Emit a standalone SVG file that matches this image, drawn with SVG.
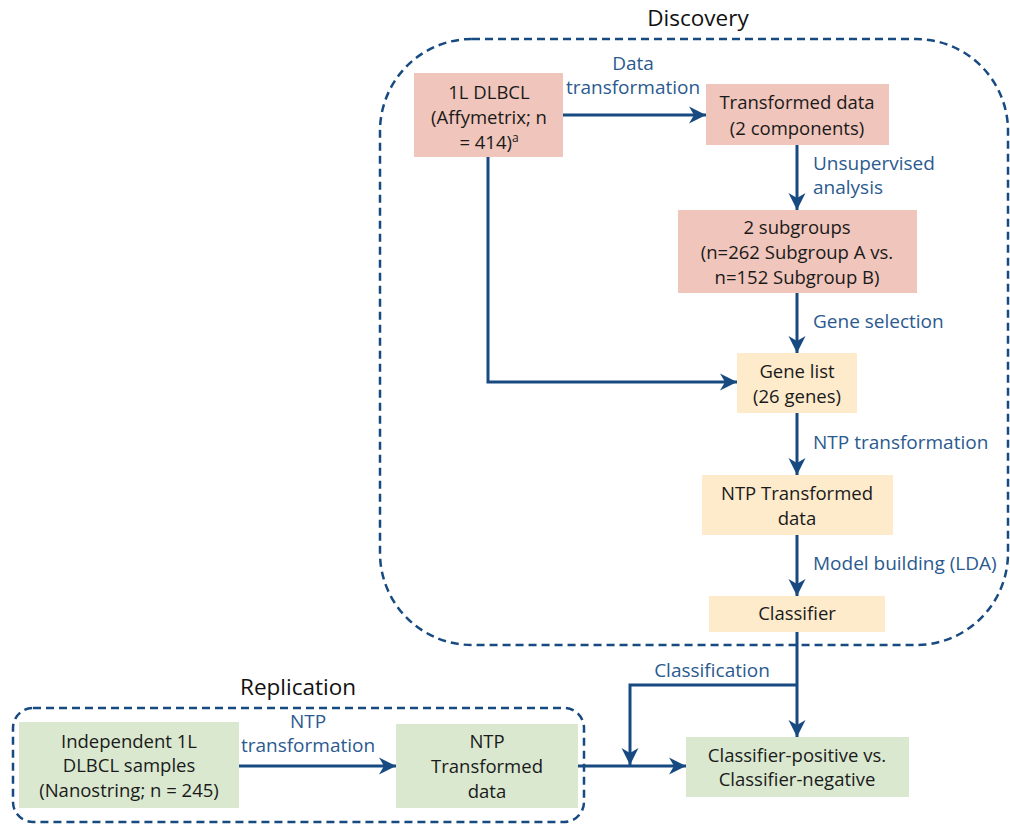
<svg xmlns="http://www.w3.org/2000/svg" width="1010" height="824" viewBox="0 0 1010 824">
<style>
.t{font-family:"Open Sans","Noto Sans","Liberation Sans",sans-serif;font-size:18.5px;fill:#1a1a1a;text-anchor:middle}
.l{font-family:"Open Sans","Noto Sans","Liberation Sans",sans-serif;font-size:19px;fill:#2b5a8f}
.h{font-family:"Open Sans","Noto Sans","Liberation Sans",sans-serif;font-size:22.5px;fill:#111;text-anchor:middle}
.pink{fill:#f0c5bb}
.yel{fill:#fdebcc}
.grn{fill:#d9e8cf}
.grp{fill:none;stroke:#174a80;stroke-width:2.5;stroke-dasharray:8 5}
.c{fill:none;stroke:#174a80;stroke-width:3}
</style>
<defs>
<marker id="ah" markerUnits="userSpaceOnUse" markerWidth="18" markerHeight="18" refX="17" refY="9" orient="auto">
<path d="M0,0.5 L17,9 L0,17.5 L5,9 z" fill="#174a80"/>
</marker>
</defs>
<rect width="1010" height="824" fill="#fff"/>

<g id="discovery">
<rect class="grp" x="380" y="39" width="628" height="606" rx="92" ry="92"/>
<text class="h" x="698" y="26">Discovery</text>
</g>
<g id="replication">
<rect class="grp" x="13" y="708" width="571" height="114" rx="20" ry="20"/>
<text class="h" x="298" y="695">Replication</text>
</g>

<g id="connectors">
<line class="c" x1="563" y1="115" x2="706" y2="115" marker-end="url(#ah)"/>
<line class="c" x1="797" y1="145" x2="797" y2="210" marker-end="url(#ah)"/>
<line class="c" x1="797" y1="293" x2="797" y2="353" marker-end="url(#ah)"/>
<polyline class="c" points="488,157 488,382 737,382" marker-end="url(#ah)"/>
<line class="c" x1="797" y1="413" x2="797" y2="475" marker-end="url(#ah)"/>
<line class="c" x1="797" y1="535" x2="797" y2="596" marker-end="url(#ah)"/>
<line class="c" x1="797" y1="632" x2="797" y2="737" marker-end="url(#ah)"/>
<polyline class="c" points="797,685 630,685 630,765" marker-end="url(#ah)"/>
<line class="c" x1="239" y1="766" x2="396" y2="766" marker-end="url(#ah)"/>
<line class="c" x1="578" y1="766" x2="686" y2="766" marker-end="url(#ah)"/>
<text class="l" x="633" y="70" text-anchor="middle">Data</text>
<text class="l" x="633" y="94" text-anchor="middle">transformation</text>
<text class="l" x="813" y="170">Unsupervised</text>
<text class="l" x="813" y="194">analysis</text>
<text class="l" x="813" y="328">Gene selection</text>
<text class="l" x="813" y="449">NTP transformation</text>
<text class="l" x="813" y="570">Model building (LDA)</text>
<text class="l" x="712" y="677" text-anchor="middle">Classification</text>
<text class="l" x="308" y="728" text-anchor="middle">NTP</text>
<text class="l" x="308" y="752" text-anchor="middle">transformation</text>
</g>

<g id="n-dlbcl">
<rect class="pink" x="414" y="73" width="149" height="84"/>
<text class="t" x="489" y="99">1L DLBCL</text>
<text class="t" x="489" y="124">(Affymetrix; n</text>
<text class="t" x="489" y="149">= 414)<tspan font-size="12" dy="-7">a</tspan></text>
</g>
<g id="n-transformed">
<rect class="pink" x="706" y="84" width="183" height="61"/>
<text class="t" x="797" y="109">Transformed data</text>
<text class="t" x="797" y="135">(2 components)</text>
</g>
<g id="n-subgroups">
<rect class="pink" x="678" y="210" width="239" height="83"/>
<text class="t" x="797" y="234">2 subgroups</text>
<text class="t" x="797" y="259">(n=262 Subgroup A vs.</text>
<text class="t" x="797" y="284">n=152 Subgroup B)</text>
</g>
<g id="n-genelist">
<rect class="yel" x="737" y="353" width="120" height="60"/>
<text class="t" x="797" y="378">Gene list</text>
<text class="t" x="797" y="403">(26 genes)</text>
</g>
<g id="n-ntpdata">
<rect class="yel" x="702" y="475" width="191" height="60"/>
<text class="t" x="797" y="500">NTP Transformed</text>
<text class="t" x="797" y="525">data</text>
</g>
<g id="n-classifier">
<rect class="yel" x="709" y="596" width="176" height="36"/>
<text class="t" x="797" y="620">Classifier</text>
</g>
<g id="n-result">
<rect class="grn" x="686" y="737" width="223" height="60"/>
<text class="t" x="797" y="762">Classifier-positive vs.</text>
<text class="t" x="797" y="786">Classifier-negative</text>
</g>
<g id="n-independent">
<rect class="grn" x="19" y="722" width="220" height="86"/>
<text class="t" x="129" y="748">Independent 1L</text>
<text class="t" x="129" y="772">DLBCL samples</text>
<text class="t" x="129" y="797">(Nanostring; n = 245)</text>
</g>
<g id="n-ntprep">
<rect class="grn" x="396" y="724" width="182" height="84"/>
<text class="t" x="487" y="748">NTP</text>
<text class="t" x="487" y="773">Transformed</text>
<text class="t" x="487" y="798">data</text>
</g>
</svg>
